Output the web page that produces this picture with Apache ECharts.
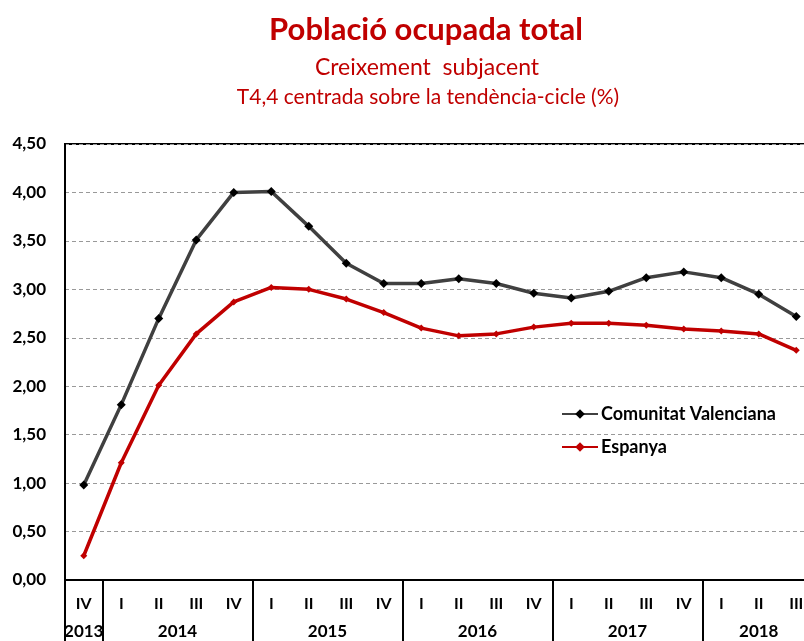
<!DOCTYPE html>
<html>
<head>
<meta charset="utf-8">
<script src="https://cdn.jsdelivr.net/npm/echarts@6/dist/echarts.min.js"></script>
<style>
html, body { margin: 0; padding: 0; background: #fff; }
#chart { width: 804px; height: 641px; }
</style>
</head>
<body>
<div id="chart"></div>
<script>
// trimestres i anys
var quarters = ['IV', 'I', 'II', 'III', 'IV', 'I', 'II', 'III', 'IV', 'I', 'II', 'III', 'IV', 'I', 'II', 'III', 'IV', 'I', 'II', 'III'];
var years = ['2013', '2014', '2015', '2016', '2017', '2018'];
var quartersPerYear = [1, 4, 4, 4, 4, 3];

var valencia = [0.98, 1.81, 2.70, 3.51, 4.00, 4.01, 3.65, 3.27, 3.06, 3.06, 3.11, 3.06, 2.96, 2.91, 2.98, 3.12, 3.18, 3.12, 2.95, 2.72];
var espanya = [0.25, 1.21, 2.01, 2.54, 2.87, 3.02, 3.00, 2.90, 2.76, 2.60, 2.52, 2.54, 2.61, 2.65, 2.65, 2.63, 2.59, 2.57, 2.54, 2.37];

// posicions de separadors i centres dels anys (en unitats de trimestre)
var bounds = [0];
var centers = [];
var yearAt = {};
for (var i = 0; i < quartersPerYear.length; i++) {
	var start = bounds[bounds.length - 1];
	var end = start + quartersPerYear[i];
	bounds.push(end);
	var c = (start + end) / 2;
	centers.push(c);
	yearAt[c] = years[i];
}
var sepTicks = bounds.slice(0, bounds.length - 1);

var font = 'Lato, "Noto Sans", sans-serif';
var myChart = echarts.init(document.getElementById('chart'));

var option = {
	animation: false,
	title: [
		{
			text: 'Població ocupada total',
			left: 421, top: 9, textAlign: 'center',
			textStyle: { color: '#c00000', fontSize: 31, fontWeight: 'bold', fontFamily: font }
		},
		{
			text: 'Creixement  subjacent',
			left: 422, top: 51, textAlign: 'center',
			textStyle: { color: '#c00000', fontSize: 23, fontWeight: 'normal', fontFamily: font }
		},
		{
			text: 'T4,4 centrada sobre la tendència-cicle (%)',
			left: 423, top: 82, textAlign: 'center',
			textStyle: { color: '#c00000', fontSize: 21, fontWeight: 'normal', fontFamily: font }
		}
	],
	legend: {
		orient: 'vertical',
		left: 556, top: 400,
		itemWidth: 36, itemHeight: 12, itemGap: 15,
		textStyle: { color: '#000', fontSize: 18, fontWeight: 'bold', fontFamily: font, padding: [0, 0, 0, -2] },
		data: ['Comunitat Valenciana', 'Espanya']
	},
	grid: {
		left: 65, top: 144, width: 750, height: 436,
		outerBoundsMode: 'none',
		containLabel: false,
		show: true, borderColor: '#000', borderWidth: 2
	},
	xAxis: [
		{
			type: 'category',
			data: quarters,
			boundaryGap: true,
			axisLine: { show: true, lineStyle: { color: '#000', width: 2 } },
			axisTick: { show: false },
			axisLabel: {
				interval: 0, margin: 16,
				color: '#000', fontSize: 16, fontWeight: 'bold', fontFamily: font
			}
		},
		{
			type: 'value',
			position: 'bottom',
			min: 0, max: quarters.length,
			axisLine: { show: false },
			splitLine: { show: false },
			axisTick: {
				show: true, length: 62, customValues: sepTicks,
				lineStyle: { color: '#000', width: 2 }
			},
			axisLabel: {
				show: true, customValues: centers, margin: 43,
				color: '#000', fontSize: 17, fontWeight: 'bold', fontFamily: font,
				formatter: function(v) { return yearAt[v] || ''; }
			}
		}
	],
	yAxis: {
		type: 'value',
		min: 0, max: 4.5, interval: 0.5,
		axisLine: { show: true, lineStyle: { color: '#000', width: 2 } },
		axisTick: { show: false },
		splitLine: { show: true, lineStyle: { color: '#999', type: [4, 3], width: 1.2 } },
		axisLabel: {
			margin: 19, color: '#000', fontSize: 17, fontWeight: 'bold', fontFamily: font,
			formatter: function(v) { return v.toFixed(2).replace('.', ','); }
		}
	},
	series: [
		{
			name: 'Comunitat Valenciana',
			type: 'line',
			data: valencia,
			symbol: 'diamond', symbolSize: 9,
			lineStyle: { color: '#404040', width: 3.5 },
			itemStyle: { color: '#000' },
			z: 3
		},
		{
			name: 'Espanya',
			type: 'line',
			data: espanya,
			symbol: 'diamond', symbolSize: 7,
			lineStyle: { color: '#c00000', width: 3.5 },
			itemStyle: { color: '#c00000' },
			z: 2
		}
	]
};
myChart.setOption(option);
</script>
</body>
</html>
